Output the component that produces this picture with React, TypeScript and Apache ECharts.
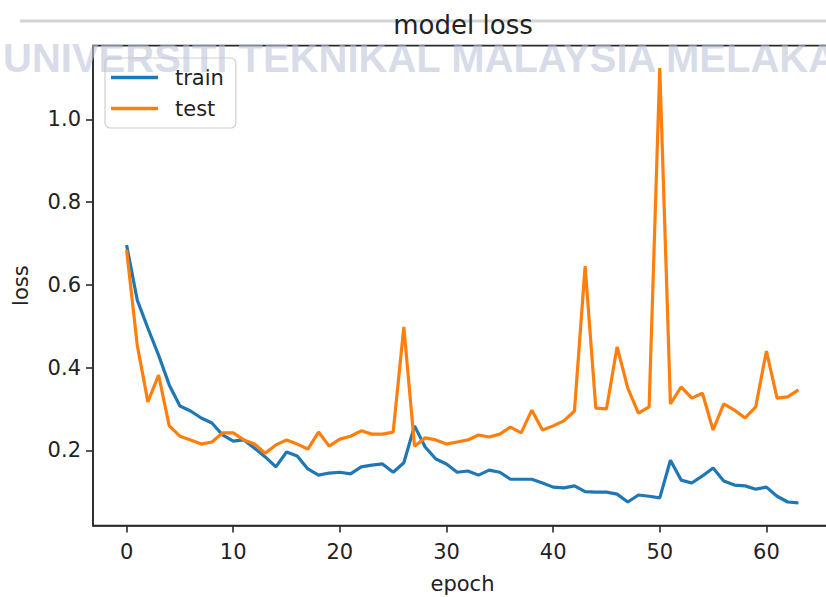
import React, { useEffect, useRef } from "react";
import * as echarts from "echarts";

const epochs: number[] = Array.from({ length: 64 }, (_, i) => i);

const trainLoss: number[] = [
  0.696, 0.563, 0.495, 0.43, 0.358, 0.307, 0.295, 0.278, 0.266, 0.237,
  0.222, 0.225, 0.205, 0.184, 0.16, 0.196, 0.186, 0.155, 0.14, 0.145,
  0.147, 0.143, 0.16, 0.164, 0.167, 0.147, 0.17, 0.259, 0.208, 0.179,
  0.167, 0.147, 0.15, 0.14, 0.152, 0.147, 0.13, 0.13, 0.13, 0.121,
  0.111, 0.109, 0.114, 0.1, 0.099, 0.099, 0.094, 0.075, 0.092, 0.089,
  0.085, 0.176, 0.128, 0.121, 0.138, 0.157, 0.126, 0.116, 0.114, 0.106,
  0.111, 0.089, 0.075, 0.073,
];

const testLoss: number[] = [
  0.684, 0.454, 0.317, 0.382, 0.259, 0.234, 0.225, 0.215, 0.22, 0.242,
  0.242, 0.225, 0.215, 0.193, 0.213, 0.225, 0.215, 0.203, 0.244, 0.21,
  0.227, 0.234, 0.247, 0.239, 0.239, 0.244, 0.498, 0.21, 0.23, 0.225,
  0.215, 0.22, 0.225, 0.237, 0.232, 0.239, 0.256, 0.242, 0.297, 0.249,
  0.259, 0.271, 0.295, 0.645, 0.302, 0.3, 0.45, 0.35, 0.29, 0.305,
  1.124, 0.312, 0.353, 0.326, 0.338, 0.249, 0.312, 0.297, 0.278, 0.305,
  0.44, 0.326, 0.329, 0.346,
];

const xTicks: number[] = [0, 10, 20, 30, 40, 50, 60];
const yTicks: number[] = [0.2, 0.4, 0.6, 0.8, 1.0];

const titleText = "model loss";
const watermarkText = "UNIVERSITI TEKNIKAL MALAYSIA MELAKA";
const FONT = "DejaVu Sans";

export default function App() {
  const ref = useRef<HTMLDivElement>(null);

  useEffect(() => {
    if (!ref.current) return;
    const chart = echarts.init(ref.current, undefined, { renderer: "svg" });
    const axisColor = "#2a2a2a";
    chart.setOption({
      animation: false,
      backgroundColor: "#ffffff",
      grid: {
        left: 93,
        top: 45.6,
        width: 739,
        height: 480,
        outerBoundsMode: "none",
        containLabel: false,
        show: true,
        borderColor: axisColor,
        borderWidth: 1.6,
        backgroundColor: "#ffffff",
      },
      title: {
        text: titleText,
        left: 458,
        textAlign: "center",
        top: 7,
        textStyle: {
          fontFamily: FONT,
          fontSize: 26,
          fontWeight: "normal",
          color: "#222",
        },
      },
      legend: {
        orient: "vertical",
        left: 105,
        top: 58,
        padding: [9, 12, 9, 6],
        itemGap: 10,
        itemWidth: 47,
        itemHeight: 3.5,
        icon: "rect",
        backgroundColor: "rgba(255,255,255,0.85)",
        borderColor: "#d0d0d0",
        borderWidth: 1.2,
        borderRadius: 5,
        textStyle: {
          fontFamily: FONT,
          fontSize: 21,
          color: "#222",
          padding: [0, 0, 0, 12],
        },
        data: ["train", "test"],
      },
      xAxis: {
        type: "value",
        min: -3.15,
        max: 66.15,
        name: "epoch",
        nameLocation: "middle",
        nameGap: 48,
        nameTextStyle: { fontFamily: FONT, fontSize: 21, color: "#222" },
        splitLine: { show: false },
        axisLine: { show: true, onZero: false, lineStyle: { color: axisColor, width: 1.6 } },
        axisTick: {
          show: true,
          length: 7,
          customValues: xTicks,
          lineStyle: { color: axisColor, width: 1.6 },
        },
        axisLabel: {
          customValues: xTicks,
          margin: 16,
          fontFamily: FONT,
          fontSize: 21,
          color: "#222",
          formatter: (v: number) => String(v),
        },
      },
      yAxis: {
        type: "value",
        min: 0.018,
        max: 1.178,
        name: "loss",
        nameLocation: "middle",
        nameGap: 62,
        nameTextStyle: { fontFamily: FONT, fontSize: 21, color: "#222" },
        splitLine: { show: false },
        axisLine: { show: true, onZero: false, lineStyle: { color: axisColor, width: 1.6 } },
        axisTick: {
          show: true,
          length: 7,
          customValues: yTicks,
          lineStyle: { color: axisColor, width: 1.6 },
        },
        axisLabel: {
          customValues: yTicks,
          margin: 12,
          fontFamily: FONT,
          fontSize: 21,
          color: "#222",
          formatter: (v: number) => v.toFixed(1),
        },
      },
      series: [
        {
          name: "train",
          type: "line",
          data: epochs.map((e, i) => [e, trainLoss[i]]),
          symbol: "none",
          color: "#1f77b4",
          lineStyle: { width: 3.2, color: "#1f77b4" },
          z: 3,
        },
        {
          name: "test",
          type: "line",
          data: epochs.map((e, i) => [e, testLoss[i]]),
          symbol: "none",
          color: "#ff7f0e",
          lineStyle: { width: 3.2, color: "#ff7f0e" },
          z: 4,
        },
      ],
      graphic: [
        {
          type: "line",
          z: -1,
          shape: { x1: 20, y1: 21, x2: 826, y2: 21 },
          style: { stroke: "#d4d4d4", lineWidth: 3 },
        },
        {
          type: "text",
          z: 100,
          x: 3,
          y: 58,
          style: {
            text: watermarkText,
            fontFamily: "Liberation Sans",
            fontWeight: "bold",
            fontSize: 40,
            fill: "rgba(190,197,218,0.6)",
            verticalAlign: "middle",
            align: "left",
          },
        },
      ],
    });
    return () => chart.dispose();
  }, []);

  return (
    <div
      ref={ref}
      style={{ position: "absolute", left: 0, top: 0, width: 826, height: 597 }}
    />
  );
}
